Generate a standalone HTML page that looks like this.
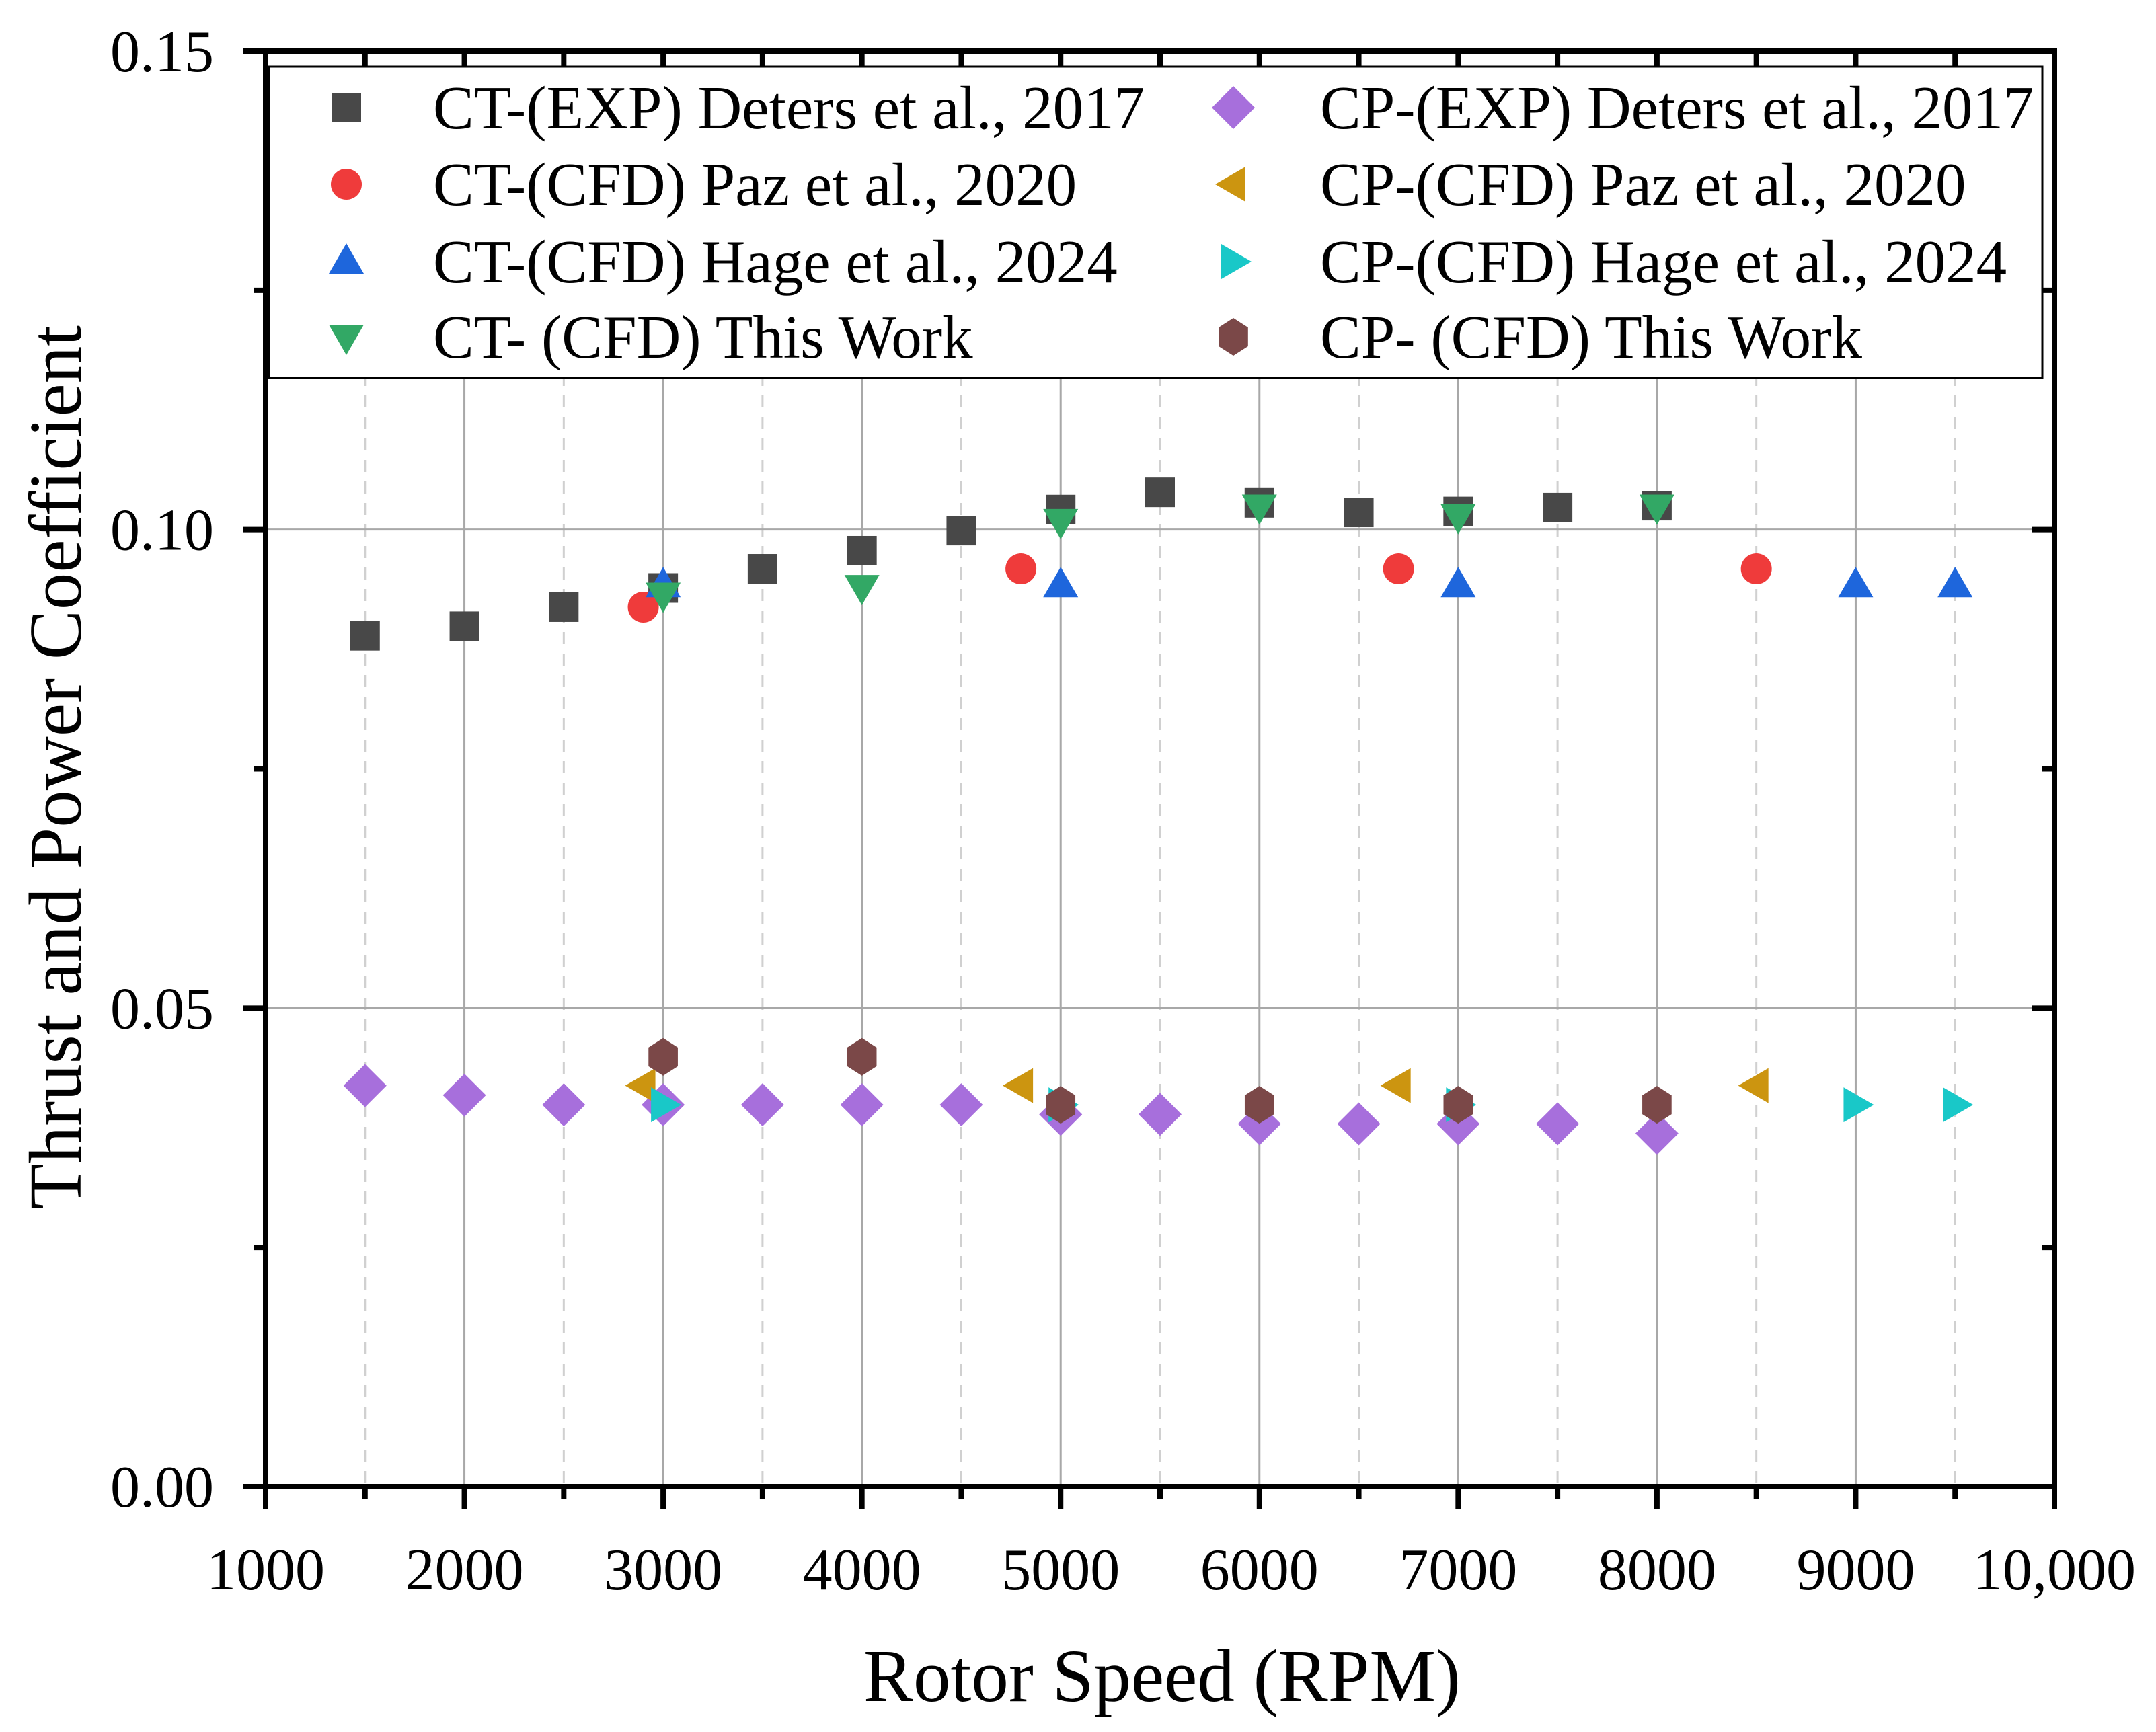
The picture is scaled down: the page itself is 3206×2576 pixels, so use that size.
<!DOCTYPE html>
<html><head><meta charset="utf-8"><style>
html,body{margin:0;padding:0;background:#fff;}
svg{display:block;font-family:"Liberation Serif",serif;}
</style></head><body>
<svg id="chart" width="3206" height="2576" viewBox="0 0 3206 2576" xmlns="http://www.w3.org/2000/svg"></svg>
<script>
const xTicks=[1000,2000,3000,4000,5000,6000,7000,8000,9000,10000];
const xTickLabels=["1000","2000","3000","4000","5000","6000","7000","8000","9000","10,000"];
const yTicks=[0,0.05,0.10,0.15];
const yTickLabels=["0.00","0.05","0.10","0.15"];

const ctExpX=[1500,2000,2500,3000,3500,4000,4500,5000,5500,6000,6500,7000,7500,8000];
const ctExpY=[0.0889,0.0899,0.0919,0.0939,0.0959,0.0978,0.0999,0.1021,0.1039,0.1028,0.1018,0.1019,0.1023,0.1025];
const ctPazX=[2900,4800,6700,8500];
const ctPazY=[0.0919,0.0959,0.0959,0.0959];
const ctHageX=[3000,5000,7000,9000,9500];
const ctHageY=[0.0942,0.0942,0.0942,0.0942,0.0942];
const ctWorkX=[3000,4000,5000,6000,7000,8000];
const ctWorkY=[0.0932,0.0940,0.1009,0.1024,0.1014,0.1024];
const cpExpX=[1500,2000,2500,3000,3500,4000,4500,5000,5500,6000,6500,7000,7500,8000];
const cpExpY=[0.0419,0.0409,0.0399,0.0399,0.0399,0.0399,0.0399,0.0389,0.0389,0.0379,0.0379,0.0379,0.0379,0.0369];
const cpPazX=[2900,4800,6700,8500];
const cpPazY=[0.0419,0.0419,0.0419,0.0419];
const cpHageX=[3000,5000,7000,9000,9500];
const cpHageY=[0.0399,0.0399,0.0399,0.0399,0.0399];
const cpWorkX=[3000,4000,5000,6000,7000,8000];
const cpWorkY=[0.0449,0.0449,0.0399,0.0399,0.0399,0.0399];

const L=395,R=3055,T=76,B=2211;
const X=v=>L+(v-1000)/9000*(R-L);
const Y=v=>B-v/0.15*(B-T);
const NS="http://www.w3.org/2000/svg";
const svg=document.getElementById('chart');
function mk(tag,at,parent){const e=document.createElementNS(NS,tag);for(const k in at)e.setAttribute(k,at[k]);(parent||svg).appendChild(e);return e;}

// grid
const grid=mk('g',{});


for(let v=1500;v<10000;v+=500){
  const major=v%1000===0;
  const ln=mk('line',{x1:X(v),x2:X(v),y1:T,y2:B,stroke:major?'#a8a8a8':'#d0d0d0','stroke-width':major?3:3,'stroke-dasharray':major?'none':'18 14'},grid);
  
  
}
[0.05,0.10].forEach(v=>{
  const ln=mk('line',{x1:L,x2:R,y1:Y(v),y2:Y(v),stroke:'#a8a8a8','stroke-width':3},grid);
  
  
});

// markers
function marker(shape,cx,cy,color,parent){
  let e;
  const s=22;
  if(shape==='square') e=mk('rect',{x:cx-s,y:cy-s,width:2*s,height:2*s,fill:color},parent);
  else if(shape==='circle') e=mk('circle',{cx:cx,cy:cy,r:23,fill:color},parent);
  else if(shape==='up') e=mk('polygon',{points:`${cx},${cy-27} ${cx+26},${cy+18} ${cx-26},${cy+18}`,fill:color},parent);
  else if(shape==='down') e=mk('polygon',{points:`${cx},${cy+27} ${cx+26},${cy-18} ${cx-26},${cy-18}`,fill:color},parent);
  else if(shape==='left') e=mk('polygon',{points:`${cx-27},${cy} ${cx+18},${cy-26} ${cx+18},${cy+26}`,fill:color},parent);
  else if(shape==='right') e=mk('polygon',{points:`${cx+27},${cy} ${cx-18},${cy-26} ${cx-18},${cy+26}`,fill:color},parent);
  else if(shape==='diamond') e=mk('polygon',{points:`${cx},${cy-32} ${cx+32},${cy} ${cx},${cy+32} ${cx-32},${cy}`,fill:color},parent);
  else if(shape==='hex'){const r=28;let p=[];for(let i=0;i<6;i++){const a=Math.PI/180*(90+60*i);p.push((cx+r*Math.cos(a)*0.9)+','+(cy-r*Math.sin(a)));}e=mk('polygon',{points:p.join(' '),fill:color},parent);}
  return e;
}
const series=[
 {name:'ct-exp-deters',xs:ctExpX,ys:ctExpY,shape:'square',color:'#484848',label:'CT-(EXP) Deters et al., 2017',col:0,row:0},
 {name:'ct-cfd-paz',xs:ctPazX,ys:ctPazY,shape:'circle',color:'#ef3b3b',label:'CT-(CFD) Paz et al., 2020',col:0,row:1},
 {name:'ct-cfd-hage',xs:ctHageX,ys:ctHageY,shape:'up',color:'#1e66dc',label:'CT-(CFD) Hage et al., 2024',col:0,row:2},
 {name:'ct-cfd-this-work',xs:ctWorkX,ys:ctWorkY,shape:'down',color:'#32a865',label:'CT- (CFD) This Work',col:0,row:3},
 {name:'cp-exp-deters',xs:cpExpX,ys:cpExpY,shape:'diamond',color:'#a76fdc',label:'CP-(EXP) Deters et al., 2017',col:1,row:0},
 {name:'cp-cfd-paz',xs:cpPazX,ys:cpPazY,shape:'left',color:'#cc9510',label:'CP-(CFD) Paz et al., 2020',col:1,row:1},
 {name:'cp-cfd-hage',xs:cpHageX,ys:cpHageY,shape:'right',color:'#19c8c8',label:'CP-(CFD) Hage et al., 2024',col:1,row:2},
 {name:'cp-cfd-this-work',xs:cpWorkX,ys:cpWorkY,shape:'hex',color:'#7b4848',label:'CP- (CFD) This Work',col:1,row:3}
];
series.forEach(s=>{
  const g=mk('g',{});
  
  
  s.xs.forEach((x,i)=>{
    const m=marker(s.shape,X(x),Y(s.ys[i]),s.color,g);
    
    
  });
});

// axes frame
const ax=mk('g',{stroke:'#000','stroke-width':8,fill:'none'});


mk('rect',{x:L,y:T,width:R-L,height:B-T},ax);
for(let v=1000;v<=10000;v+=500){
  const major=v%1000===0;
  mk('line',{x1:X(v),x2:X(v),y1:B,y2:B+(major?34:18)},ax);
  mk('line',{x1:X(v),x2:X(v),y1:T,y2:T+34},ax);
}
for(let i=0;i<=6;i++){
  const v=i*0.025;const major=i%2===0;
  mk('line',{x1:L,x2:L-(major?34:18),y1:Y(v),y2:Y(v)},ax);
  mk('line',{x1:R,x2:R-(major?34:18),y1:Y(v),y2:Y(v)},ax);
}

// tick labels
xTicks.forEach((v,i)=>{
  const t=mk('text',{x:X(v),y:2364,'font-size':88,'text-anchor':'middle',fill:'#000'});
  t.textContent=xTickLabels[i];
  
  
});
yTicks.forEach((v,i)=>{
  const t=mk('text',{x:318,y:Y(v)+30,'font-size':88,'text-anchor':'end',fill:'#000'});
  t.textContent=yTickLabels[i];
  
  
});

// axis titles
const xt=mk('text',{x:1728,y:2530,'font-size':111,'text-anchor':'middle',fill:'#000'});
xt.textContent='Rotor Speed (RPM)';


const yt=mk('text',{x:0,y:0,'font-size':111,'text-anchor':'middle',fill:'#000',transform:'translate(120,1141) rotate(-90)'});
yt.textContent='Thrust and Power Coefficient';



// legend
const lg=mk('g',{});


mk('rect',{x:400,y:99,width:2637,height:463,fill:'#fff',stroke:'#000','stroke-width':3},lg);
const rowY=[160,274,389,501];
const colMX=[515,1834],colTX=[644,1963];
series.forEach(s=>{
  const e=mk('g',{},lg);
  
  
  marker(s.shape,colMX[s.col],rowY[s.row],s.color,e);
  const t=mk('text',{x:colTX[s.col],y:rowY[s.row]+31,'font-size':91,fill:'#000'},e);
  t.textContent=s.label;
});
</script>
</body></html>
